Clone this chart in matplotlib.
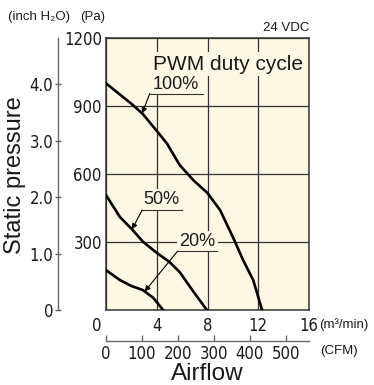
import numpy as np
import matplotlib
matplotlib.use("Agg")
import matplotlib.pyplot as plt
import matplotlib.transforms as mtransforms
from matplotlib.font_manager import FontProperties

# ---- data (airflow in m3/min, static pressure in Pa) ----
airflow_100 = [0, 1.0, 2.0, 2.9, 4.0, 4.8, 5.8, 6.9, 8.0, 9.0, 10.0, 10.8, 11.6, 12.0, 12.3]
pressure_100 = [1000, 955, 910, 865, 790, 735, 640, 572, 516, 440, 322, 221, 132, 57, 0]
airflow_50 = [0, 1.1, 2.1, 2.9, 4.0, 5.0, 5.8, 6.8, 7.95]
pressure_50 = [507, 410, 353, 302, 252, 212, 168, 88, 0]
airflow_20 = [0, 1.1, 2.0, 2.9, 3.7, 4.1, 4.5]
pressure_20 = [176, 132, 106, 88, 55, 28, 0]

x_ticks_m3 = [0, 4, 8, 12, 16]
y_ticks_pa = [300, 600, 900, 1200]
y_ticks_inch = [0, 1.0, 2.0, 3.0, 4.0]
y_ticklabels_inch = ["0", "1.0", "2.0", "3.0", "4.0"]
x_ticks_cfm = [0, 100, 200, 300, 400, 500]

PA_PER_INCH = 249.09
CFM_PER_M3MIN = 35.3147

SANS = ["Liberation Sans", "DejaVu Sans"]
BG = "#FCF8E3"
INK = "#1a1a1a"
TICKFP = FontProperties(family="DejaVu Sans", stretch="condensed", size=12)

W, H = 374, 385
fig = plt.figure(figsize=(W / 100, H / 100), dpi=100)

L, R, T, B = 106, 309, 38, 310
ax = fig.add_axes([L / W, 1 - B / H, (R - L) / W, (B - T) / H])
ax.set_facecolor(BG)
ax.set_xlim(0, 16)
ax.set_ylim(0, 1200)
for s in ax.spines.values():
    s.set_color("#333333")
    s.set_linewidth(1.1)
ax.set_xticks(x_ticks_m3)
ax.set_yticks(y_ticks_pa)
ax.set_xticklabels([str(v) for v in x_ticks_m3], fontproperties=TICKFP)
ax.set_yticklabels([str(v) for v in y_ticks_pa], fontproperties=TICKFP)
ax.tick_params(length=0, colors=INK)
ax.tick_params(axis="y", pad=3)
ax.tick_params(axis="x", pad=5)
first = ax.get_xticklabels()[0]
first.set_transform(first.get_transform() + mtransforms.ScaledTranslation(-9 / 100, 0, fig.dpi_scale_trans))
ax.grid(True, color="#333333", linewidth=0.9)
ax.set_axisbelow(True)

lw = 1.9
ax.plot(airflow_100, pressure_100, color="black", lw=lw, zorder=3)
ax.plot(airflow_50, pressure_50, color="black", lw=lw, zorder=3)
ax.plot(airflow_20, pressure_20, color="black", lw=lw, zorder=3)

box = dict(facecolor=BG, edgecolor="none", pad=1.5)
ax.text(9.6, 1085, "PWM duty cycle", ha="center", va="center", fontsize=15,
        family=SANS, color=INK, bbox=box, zorder=4)


def label(txt, tx, ty, ul_x0, ul_x1, ul_y, curve_x, curve_y, target_x):
    ax.text(tx, ty, txt, ha="center", va="center", fontsize=13, family=SANS,
            color=INK, bbox=box, zorder=4)
    ax.plot([ul_x0, ul_x1], [ul_y, ul_y], color="#333333", lw=0.8, zorder=4)
    ty_c = float(np.interp(target_x, curve_x, curve_y))
    ax.annotate("", xy=(target_x, ty_c), xytext=(ul_x0, ul_y),
                arrowprops=dict(arrowstyle="-|>", lw=0.8, color="black",
                                mutation_scale=8, shrinkA=0, shrinkB=0), zorder=5)


label("100%", 5.5, 995, 3.45, 7.65, 955, airflow_100, pressure_100, 2.85)
label("50%", 4.4, 487, 2.85, 6.0, 441, airflow_50, pressure_50, 2.05)
label("20%", 7.2, 302, 5.65, 8.75, 260, airflow_20, pressure_20, 3.05)

# inch H2O axis
X_IN = 58
ax_in = fig.add_axes([X_IN / W, 1 - B / H, 10 / W, (B - T) / H])
ax_in.patch.set_visible(False)
ax_in.set_ylim(0, 1200 / PA_PER_INCH)
ax_in.set_xlim(0, 1)
for k in ("top", "right", "bottom"):
    ax_in.spines[k].set_visible(False)
ax_in.spines["left"].set_color("#666666")
ax_in.spines["left"].set_linewidth(1.0)
ax_in.set_xticks([])
ax_in.set_yticks(y_ticks_inch)
ax_in.set_yticklabels(y_ticklabels_inch, fontproperties=TICKFP)
ax_in.tick_params(axis="y", direction="inout", length=5, width=1.0, color="#666666",
                  labelcolor=INK, pad=1)

# CFM axis
Y_CFM = 341
ax_cfm = fig.add_axes([L / W, 1 - Y_CFM / H, (R - L) / W, 5 / H])
ax_cfm.patch.set_visible(False)
ax_cfm.set_xlim(0, 16 * CFM_PER_M3MIN)
for k in ("top", "right", "left"):
    ax_cfm.spines[k].set_visible(False)
ax_cfm.spines["bottom"].set_color("#666666")
ax_cfm.spines["bottom"].set_linewidth(1.0)
ax_cfm.set_yticks([])
ax_cfm.set_xticks(x_ticks_cfm)
ax_cfm.set_xticklabels([str(v) for v in x_ticks_cfm], fontproperties=TICKFP)
ax_cfm.tick_params(axis="x", direction="in", length=4, width=1.0, color="#666666",
                   labelcolor=INK, pad=3)

# texts
fig.text(15 / W, 1 - 175 / H, "Static pressure", rotation=90, ha="center", va="center",
         fontsize=17, family=SANS, color=INK)
fig.text(207 / W, 1 - 374 / H, "Airflow", ha="center", va="center",
         fontsize=17.5, family=SANS, color=INK)
fig.text(8 / W, 1 - 17 / H, "(inch H\u2082O)", ha="left", va="center",
         fontsize=9.5, family=SANS, color=INK)
fig.text(80 / W, 1 - 17 / H, "(Pa)", ha="left", va="center",
         fontsize=9.5, family=SANS, color=INK)
fig.text(309 / W, 1 - 28 / H, "24 VDC", ha="right", va="center",
         fontsize=9.5, family=SANS, color=INK)
fig.text(319 / W, 1 - 325 / H, "(m\u00b3/min)", ha="left", va="center",
         fontsize=9.5, family=SANS, color=INK)
fig.text(320 / W, 1 - 351 / H, "(CFM)", ha="left", va="center",
         fontsize=9.5, family=SANS, color=INK)

fig.savefig("out.png", dpi=100, facecolor="white")
